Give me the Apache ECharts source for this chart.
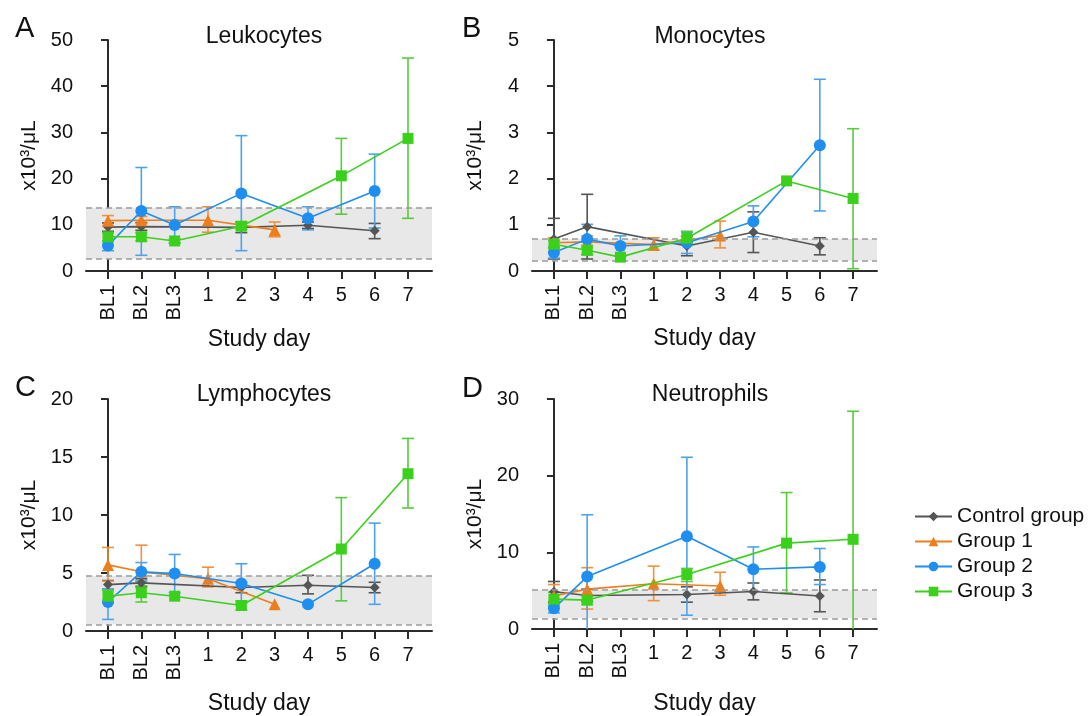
<!DOCTYPE html>
<html>
<head>
<meta charset="utf-8">
<script src="https://cdn.jsdelivr.net/npm/echarts@6/dist/echarts.min.js"></script>
<style>
html,body{margin:0;padding:0;background:#fff;}
#chart{width:1091px;height:716px;}
</style>
</head>
<body>
<div id="chart"></div>
<script>
// ---- Data ----
const xLabels = ['BL1','BL2','BL3','1','2','3','4','5','6','7'];
const panelTitles = ['Leukocytes','Monocytes','Lymphocytes','Neutrophils'];
const panelLetters = ['A','B','C','D'];
const groupNames = ['Control group','Group 1','Group 2','Group 3'];
const yMax = [50, 5, 20, 30];
const yInterval = [10, 1, 5, 10];
const refLow = [2.6, 0.22, 0.55, 1.4];
const refHigh = [13.7, 0.69, 4.75, 5.1];
const yAxisName = 'x10³/μL';
const xAxisName = 'Study day';

// [x index, mean, lower, upper]
const leukoControl = [[0,9.5,8.6,10.4],[1,9.6,8.8,10.5],[4,9.45,8.3,10.6],[6,9.9,9.2,10.6],[8,8.7,7.0,10.3]];
const leukoG1 = [[0,10.9,9.8,12.0],[1,11.0,10.3,11.8],[3,11.0,8.4,13.9],[5,8.9,7.4,10.6]];
const leukoG2 = [[0,5.5,4.4,6.4],[1,13.0,3.4,22.4],[2,9.95,6.0,13.9],[4,16.8,4.4,29.3],[6,11.4,8.9,13.9],[8,17.3,9.3,25.3]];
const leukoG3 = [[0,7.4,6.5,8.3],[1,7.4,6.5,8.3],[2,6.5,6.1,6.9],[4,9.7,9.0,10.4],[7,20.6,12.3,28.7],[9,28.7,11.4,46.1]];

const monoControl = [[0,0.69,0.26,1.14],[1,0.96,0.26,1.66],[4,0.54,0.33,0.75],[6,0.84,0.40,1.28],[8,0.54,0.35,0.72]];
const monoG1 = [[0,0.61,0.5,0.72],[1,0.63,0.5,0.76],[3,0.57,0.45,0.72],[5,0.77,0.5,1.08]];
const monoG2 = [[0,0.40,0.28,0.52],[1,0.69,0.36,1.01],[2,0.54,0.32,0.76],[4,0.61,0.38,0.84],[6,1.07,0.74,1.41],[8,2.72,1.30,4.15]];
const monoG3 = [[0,0.58,0.5,0.66],[1,0.45,0.35,0.55],[2,0.30,0.30,0.30],[4,0.71,0.58,0.86],[7,1.95,1.95,1.95],[9,1.57,0.05,3.08]];

const lymphControl = [[0,4.0,3.6,4.35],[1,4.15,3.8,4.5],[4,3.75,3.3,4.2],[6,3.95,3.2,4.8],[8,3.75,3.3,4.2]];
const lymphG1 = [[0,5.7,4.3,7.2],[1,5.1,4.3,7.4],[3,4.5,3.8,5.5],[5,2.3,2.3,2.3]];
const lymphG2 = [[0,2.5,1.0,3.6],[1,5.1,4.3,5.9],[2,4.95,3.3,6.6],[4,4.1,2.4,5.8],[6,2.3,2.3,2.3],[8,5.8,2.3,9.3]];
const lymphG3 = [[0,3.0,2.5,3.5],[1,3.3,2.5,3.9],[2,3.0,3.0,3.0],[4,2.2,1.8,2.6],[7,7.07,2.6,11.5],[9,13.56,10.6,16.6]];

const neutroControl = [[0,4.85,3.5,6.2],[1,4.37,3.6,5.2],[4,4.5,3.5,5.5],[6,4.9,3.8,6.0],[8,4.3,2.25,6.4]];
const neutroG1 = [[0,4.3,3.0,5.8],[1,5.2,2.6,8.0],[3,5.9,3.7,8.2],[5,5.6,4.4,7.4]];
const neutroG2 = [[0,2.7,2.1,3.3],[1,6.84,-1.3,14.9],[4,12.1,1.8,22.4],[6,7.8,4.9,10.7],[8,8.1,5.8,10.5]];
const neutroG3 = [[0,3.9,3.0,4.8],[1,3.77,3.2,4.3],[4,7.1,6.2,7.9],[7,11.2,4.7,17.8],[9,11.7,-5.0,28.4]];

const panelData = [
  [leukoControl, leukoG1, leukoG2, leukoG3],
  [monoControl, monoG1, monoG2, monoG3],
  [lymphControl, lymphG1, lymphG2, lymphG3],
  [neutroControl, neutroG1, neutroG2, neutroG3]
];

// ---- Styling ----
const FONT = 'Liberation Sans, Arial, Helvetica, sans-serif';
const TXT = '#111';
const AX = '#2b2b2b';
const lineColors = ['#555555', '#ee7d1c', '#1f8ef1', '#3ad01c'];
const errColors = ['#555555', '#f0913e', '#4ea2ec', '#56cc3a'];
const symbols = ['diamond', 'triangle', 'circle', 'rect'];
const symbolSizes = [10, 12, 12, 11];

const grids = [
  {left: 86, top: 40, width: 346, height: 231},
  {left: 532, top: 40, width: 345, height: 231},
  {left: 86, top: 399, width: 346, height: 232},
  {left: 532, top: 399, width: 345, height: 231}
];
const titlePos = [
  {cx: 259, ty: 20, lx: 10, ly: 9},
  {cx: 705, ty: 20, lx: 457, ly: 9},
  {cx: 259, ty: 378, lx: 10, ly: 368},
  {cx: 705, ty: 378, lx: 457, ly: 369}
];
const xNameGap = [57, 56, 61, 63];

const X_MIN = -0.66, X_MAX = 9.72;
const allIdx = xLabels.map((_, i) => i);

const option = {
  animation: false,
  backgroundColor: '#fff',
  textStyle: {fontFamily: FONT},
  title: [],
  grid: grids,
  xAxis: [],
  yAxis: [],
  legend: {
    orient: 'vertical',
    left: 909,
    top: 501,
    itemWidth: 37,
    itemHeight: 12,
    itemGap: 4,
    data: groupNames,
    textStyle: {fontSize: 21, color: TXT, fontFamily: FONT}
  },
  series: []
};

function errRenderer(color) {
  return function (params, api) {
    const x = api.value(0), lo = api.value(2), hi = api.value(3);
    if (hi - lo <= 0) return null;
    const p1 = api.coord([x, hi]);
    const p2 = api.coord([x, lo]);
    const w = 6;
    const st = {stroke: color, lineWidth: 1.6};
    return {
      type: 'group',
      children: [
        {type: 'line', shape: {x1: p1[0], y1: p1[1], x2: p2[0], y2: p2[1]}, style: st},
        {type: 'line', shape: {x1: p1[0] - w, y1: p1[1], x2: p1[0] + w, y2: p1[1]}, style: st},
        {type: 'line', shape: {x1: p2[0] - w, y1: p2[1], x2: p2[0] + w, y2: p2[1]}, style: st}
      ]
    };
  };
}

for (let i = 0; i < 4; i++) {
  option.title.push({
    text: panelTitles[i], left: titlePos[i].cx, top: titlePos[i].ty, textAlign: 'center',
    textStyle: {fontSize: 23, fontWeight: 'normal', color: TXT, fontFamily: FONT}
  });
  option.title.push({
    text: panelLetters[i], left: titlePos[i].lx, top: titlePos[i].ly,
    textStyle: {fontSize: 29, fontWeight: 'normal', color: TXT, fontFamily: FONT}
  });

  const labelFmt = v => xLabels[Math.round(v)];
  option.xAxis.push({
    gridIndex: i, type: 'value', min: X_MIN, max: X_MAX, position: 'bottom',
    axisLine: {show: true, onZero: false, lineStyle: {color: AX, width: 2}},
    axisTick: {show: true, customValues: allIdx, length: 8, lineStyle: {color: AX, width: 2}},
    axisLabel: {customValues: [0, 1, 2], rotate: 90, formatter: labelFmt, margin: 14,
      fontSize: 20, color: TXT, fontFamily: FONT},
    splitLine: {show: false}
  });
  option.xAxis.push({
    gridIndex: i, type: 'value', min: X_MIN, max: X_MAX, position: 'bottom',
    axisLine: {show: false, onZero: false},
    axisTick: {show: false},
    axisLabel: {customValues: [3, 4, 5, 6, 7, 8, 9], rotate: 0, formatter: labelFmt, margin: 14,
      fontSize: 20, color: TXT, fontFamily: FONT},
    splitLine: {show: false},
    name: xAxisName, nameLocation: 'middle', nameGap: xNameGap[i],
    nameTextStyle: {fontSize: 23, color: TXT, fontFamily: FONT}
  });
  option.yAxis.push({
    gridIndex: i, type: 'value', min: 0, max: yMax[i], interval: yInterval[i],
    axisLine: {show: true, lineStyle: {color: AX, width: 2}},
    axisTick: {show: true, length: 7, lineStyle: {color: AX, width: 2}},
    axisLabel: {fontSize: 20, color: TXT, margin: 13, fontFamily: FONT},
    splitLine: {show: false},
    name: yAxisName, nameLocation: 'middle', nameGap: 46,
    nameTextStyle: {fontSize: 21, color: TXT, fontFamily: FONT}
  });

  // reference band
  option.series.push({
    type: 'line', name: 'ref' + i, xAxisIndex: 2 * i, yAxisIndex: i, data: [],
    silent: true, z: 1,
    markArea: {silent: true, itemStyle: {color: '#e8e8e8'},
      data: [[{yAxis: refLow[i]}, {yAxis: refHigh[i]}]]},
    markLine: {silent: true, symbol: 'none', label: {show: false},
      lineStyle: {color: '#9a9a9a', type: [6, 4], width: 1.5},
      data: [{yAxis: refLow[i]}, {yAxis: refHigh[i]}]}
  });

  for (let g = 0; g < 4; g++) {
    const d = panelData[i][g];
    option.series.push({
      type: 'custom', name: 'err' + i + '_' + g, xAxisIndex: 2 * i, yAxisIndex: i,
      renderItem: errRenderer(errColors[g]), clip: true, z: 2,
      encode: {x: 0, y: [2, 3]},
      data: d
    });
  }
  for (let g = 0; g < 4; g++) {
    const d = panelData[i][g];
    option.series.push({
      type: 'line', name: groupNames[g], xAxisIndex: 2 * i, yAxisIndex: i,
      data: d.map(r => [r[0], r[1]]),
      symbol: symbols[g], symbolSize: symbolSizes[g], showSymbol: true,
      itemStyle: {color: lineColors[g]},
      lineStyle: {color: lineColors[g], width: 1.6},
      z: 3 + g
    });
  }
}

const chart = echarts.init(document.getElementById('chart'), null, {renderer: 'canvas'});
chart.setOption(option);
</script>
</body>
</html>
